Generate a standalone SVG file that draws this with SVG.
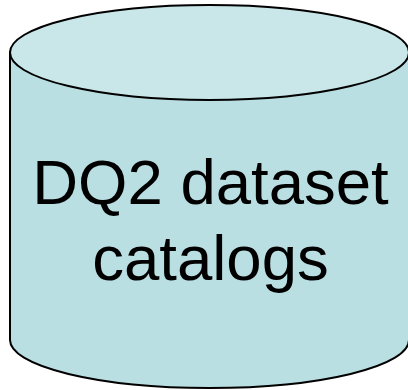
<svg xmlns="http://www.w3.org/2000/svg" width="408" height="390" viewBox="0 0 408 390">
<style>
.s{stroke:#000;stroke-width:2}
.t{font-family:"Liberation Sans",Arial,sans-serif;font-size:63.500px;fill:#000;text-anchor:middle}
</style>
<rect width="408" height="390" fill="#fff"/>
<g id="cylinder">
<path class="s" fill="#b9dfe3" d="M10 52V340A199.500 48 0 0 0 409 340V52Z"/>
<ellipse class="s" fill="#c9e6e9" cx="209.500" cy="52.500" rx="199.500" ry="47.500"/>
<text class="t" x="210.500" y="204">DQ2 dataset</text>
<text class="t" x="210.500" y="280">catalogs</text>
</g>
</svg>
